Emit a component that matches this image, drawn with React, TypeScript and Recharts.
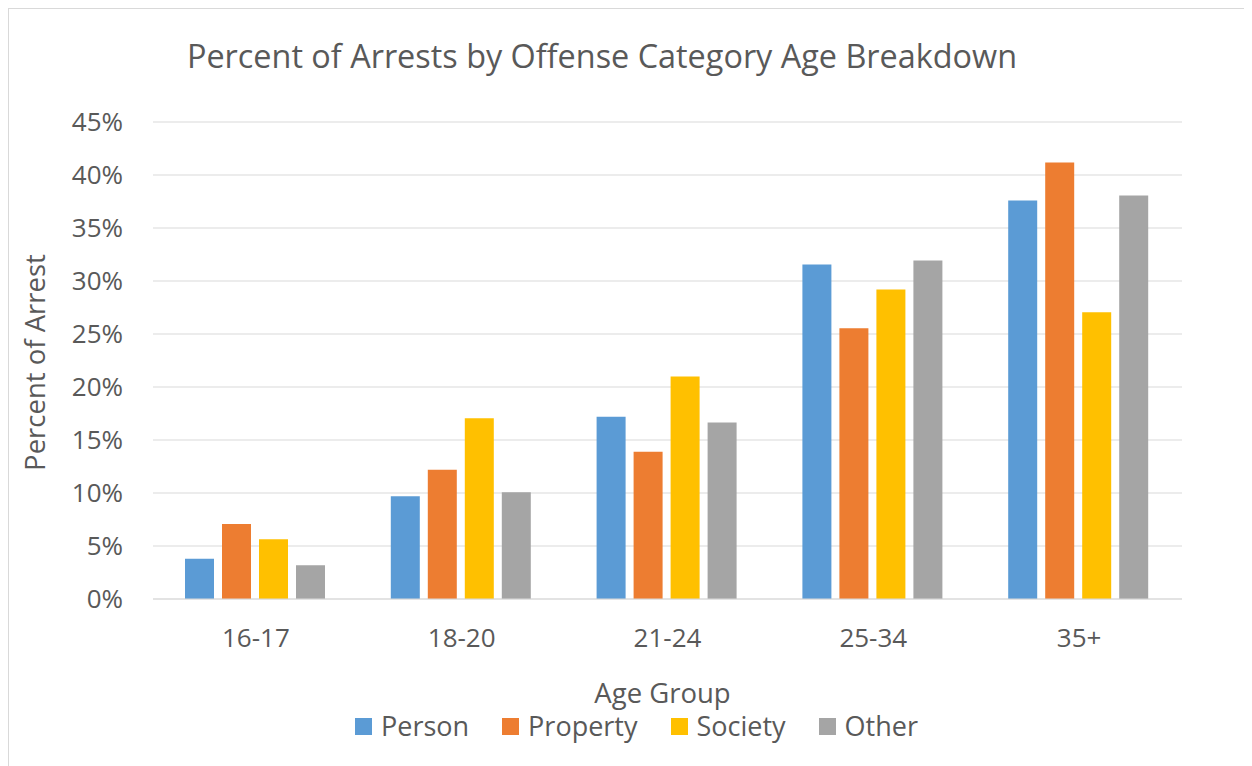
import React from 'react';
import { BarChart, Bar, XAxis, YAxis, CartesianGrid, Legend } from 'recharts';

const categories = ['16-17', '18-20', '21-24', '25-34', '35+'];
const person = [3.8, 9.7, 17.2, 31.55, 37.6];
const property = [7.07, 12.2, 13.9, 25.55, 41.17];
const society = [5.63, 17.06, 21.0, 29.2, 27.06];
const other = [3.18, 10.06, 16.66, 31.93, 38.06];
const yTicks = [0, 5, 10, 15, 20, 25, 30, 35, 40, 45];

const seriesNames = ['Person', 'Property', 'Society', 'Other'];
const seriesColors = ['#5B9BD5', '#ED7D31', '#FFC000', '#A5A5A5'];

const data = categories.map((c, i) => ({
  name: c,
  Person: person[i],
  Property: property[i],
  Society: society[i],
  Other: other[i],
}));

const FONT = '"Open Sans", "Noto Sans", sans-serif';
const TEXT = '#595959';

const YLabel = (props: any) => {
  const vb = props.viewBox || {};
  const cx = 25;
  const cy = (vb.y || 0) + (vb.height || 0) / 2 + 2;
  return (
    <text
      x={cx}
      y={cy}
      transform={`rotate(-90 ${cx} ${cy})`}
      textAnchor="middle"
      dominantBaseline="central"
      fill={TEXT}
      fontSize={27.5}
      fontFamily={FONT}
    >
      Percent of Arrest
    </text>
  );
};

const XLabel = (props: any) => {
  const vb = props.viewBox || {};
  const cx = (vb.x || 0) + (vb.width || 0) / 2 - 5;
  const y = (vb.y || 0) + 104;
  return (
    <text x={cx} y={y} textAnchor="middle" fill={TEXT} fontSize={27.5} fontFamily={FONT}>
      Age Group
    </text>
  );
};

const LegendContent = () => (
  <div
    style={{
      display: 'flex',
      justifyContent: 'center',
      alignItems: 'center',
      gap: 33,
      paddingLeft: 12,
      fontFamily: FONT,
      fontSize: 27,
      color: TEXT,
      lineHeight: '30px',
    }}
  >
    {seriesNames.map((n, i) => (
      <div key={n} style={{ display: 'flex', alignItems: 'center', gap: 9 }}>
        <span style={{ display: 'inline-block', width: 17, height: 17, background: seriesColors[i] }} />
        <span>{n}</span>
      </div>
    ))}
  </div>
);

export default function App() {
  return (
    <div
      style={{
        position: 'relative',
        width: 1243,
        height: 757,
        borderTop: '1px solid #D9D9D9',
        borderLeft: '1px solid #D9D9D9',
        background: '#fff',
      }}
    >
      <div
        style={{
          position: 'absolute',
          left: 0,
          width: 1186,
          top: 31,
          textAlign: 'center',
          fontFamily: FONT,
          fontSize: 32.4,
          lineHeight: '30px',
          color: TEXT,
          whiteSpace: 'nowrap',
        }}
      >
        Percent of Arrests by Offense Category Age Breakdown
      </div>
      <BarChart
        width={1243}
        height={757}
        data={data}
        margin={{ top: 113, right: 70, bottom: 107, left: 0 }}
        barCategoryGap={32}
        barGap={8}
      >
        <CartesianGrid vertical={false} stroke="#D9D9D9" strokeWidth={1.2} />
        <XAxis
          dataKey="name"
          height={60}
          axisLine={{ stroke: '#D9D9D9', strokeWidth: 1.2 }}
          tickLine={false}
          tickSize={6}
          tickMargin={24}
          tick={{ fill: TEXT, fontSize: 26, fontFamily: FONT }}
          label={<XLabel />}
        />
        <YAxis
          width={144}
          domain={[0, 45]}
          ticks={yTicks}
          tickFormatter={(v: number) => `${v}%`}
          axisLine={false}
          tickLine={false}
          tickSize={6}
          tickMargin={24}
          tick={{ fill: TEXT, fontSize: 26, fontFamily: FONT }}
          label={<YLabel />}
        />
        <Legend
          verticalAlign="middle"
          align="center"
          layout="horizontal"
          content={<LegendContent />}
          wrapperStyle={{ top: 702, left: 0, width: 1243 }}
        />
        {seriesNames.map((n, i) => (
          <Bar key={n} dataKey={n} fill={seriesColors[i]} isAnimationActive={false} />
        ))}
      </BarChart>
    </div>
  );
}
